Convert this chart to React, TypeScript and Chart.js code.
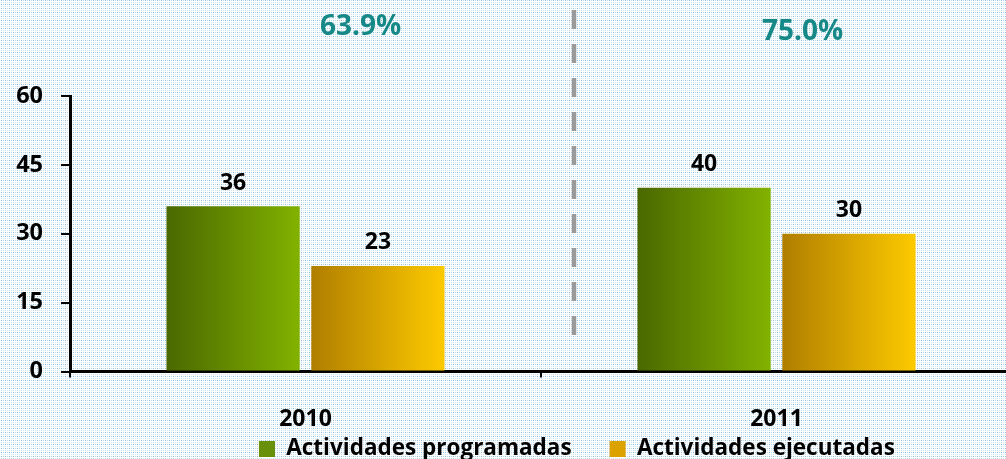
import React, { useEffect, useRef } from "react";
import { Chart, registerables } from "chart.js";

Chart.register(...registerables);

const categories = ["2010", "2011"];
const seriesNames = ["Actividades programadas", "Actividades ejecutadas"];
const programadas = [36, 40];
const ejecutadas = [23, 30];
const percentLabels = ["63.9%", "75.0%"];
const yMin = 0;
const yMax = 60;
const yStep = 15;

const FONT = "'Open Sans', 'Noto Sans', sans-serif";

const gradientStops = [
  ["#4a6800", "#82b200"],
  ["#b07e00", "#fdca00"],
];

function makePattern(ctx: CanvasRenderingContext2D) {
  const c = document.createElement("canvas");
  c.width = 4;
  c.height = 4;
  const p = c.getContext("2d")!;
  p.fillStyle = "#ffffff";
  p.fillRect(0, 0, 4, 4);
  p.fillStyle = "rgb(135,188,222)";
  p.fillRect(1, 0, 1, 1);
  p.fillStyle = "rgb(186,218,238)";
  p.fillRect(3, 0, 1, 1);
  p.fillStyle = "rgb(192,222,240)";
  p.fillRect(1, 2, 1, 1);
  p.fillStyle = "rgb(214,233,246)";
  p.fillRect(3, 2, 1, 1);
  return ctx.createPattern(c, "repeat");
}

const backgroundPlugin = {
  id: "bgPattern",
  beforeDraw(chart: any) {
    const ctx = chart.ctx;
    ctx.save();
    const pat = makePattern(ctx);
    ctx.fillStyle = pat || "#fff";
    ctx.fillRect(0, 0, chart.width, chart.height);
    // dashed separator between the two years
    ctx.strokeStyle = "#9a9a9a";
    ctx.lineWidth = 4.5;
    ctx.setLineDash([19, 15]);
    ctx.beginPath();
    ctx.moveTo(574, 10);
    ctx.lineTo(574, 340);
    ctx.stroke();
    ctx.restore();
  },
};

const LEGEND_START_X = 259;
const LEGEND_TEXT_MID_Y = 449;

const gradientPlugin = {
  id: "barGradient",
  afterLayout(chart: any) {
    const lg = chart.legend;
    if (!lg || !lg.lineWidths) return;
    const pad = lg.options.labels.padding;
    const fontSize = lg.options.labels.font.size;
    const start = (lg.left + pad + lg.right - lg.lineWidths[0]) / 2;
    const dx = LEGEND_START_X - start;
    lg.left += dx;
    lg.right += dx;
    const curMid = lg.top + pad + fontSize / 2;
    const dy = LEGEND_TEXT_MID_Y - curMid;
    lg.top += dy;
    lg.bottom += dy;
  },
  beforeDatasetsDraw(chart: any) {
    const ctx = chart.ctx;
    chart.data.datasets.forEach((_: any, di: number) => {
      const meta = chart.getDatasetMeta(di);
      meta.data.forEach((el: any) => {
        const left = el.x - el.width / 2;
        const right = el.x + el.width / 2;
        const g = ctx.createLinearGradient(left, 0, right, 0);
        g.addColorStop(0, gradientStops[di][0]);
        g.addColorStop(1, gradientStops[di][1]);
        el.options = Object.assign({}, el.options, { backgroundColor: g });
      });
    });
  },
  afterDatasetsDraw(chart: any) {
    const ctx = chart.ctx;
    ctx.save();
    ctx.font = `bold 23px ${FONT}`;
    ctx.fillStyle = "#000";
    ctx.textAlign = "center";
    ctx.textBaseline = "middle";
    chart.data.datasets.forEach((ds: any, di: number) => {
      const meta = chart.getDatasetMeta(di);
      meta.data.forEach((el: any, i: number) => {
        ctx.fillText(String(ds.data[i]), el.x, el.y - 23);
      });
    });
    ctx.restore();
  },
  afterDraw(chart: any) {
    const ctx = chart.ctx;
    const xs = chart.scales.x;
    const offsets = [
      [55, 27],
      [26, 32],
    ];
    ctx.save();
    ctx.font = `bold 28px ${FONT}`;
    ctx.fillStyle = "#158887";
    ctx.textAlign = "center";
    ctx.textBaseline = "middle";
    percentLabels.forEach((t, i) => {
      ctx.fillText(t, xs.getPixelForValue(i) + offsets[i][0], offsets[i][1]);
    });
    ctx.restore();
  },
};

export default function App() {
  const ref = useRef<HTMLCanvasElement>(null);
  useEffect(() => {
    if (!ref.current) return;
    const chart = new Chart(ref.current, {
      type: "bar",
      data: {
        labels: categories,
        datasets: [
          {
            label: seriesNames[0],
            data: programadas,
            backgroundColor: "#68900a",
            borderWidth: 0,
            categoryPercentage: 0.615,
            barPercentage: 0.92,
          },
          {
            label: seriesNames[1],
            data: ejecutadas,
            backgroundColor: "#dca300",
            borderWidth: 0,
            categoryPercentage: 0.615,
            barPercentage: 0.92,
          },
        ],
      },
      options: {
        animation: false,
        responsive: false,
        maintainAspectRatio: false,
        layout: { padding: { top: 96, left: 0, right: 0, bottom: 0 } },
        plugins: {
          legend: {
            position: "bottom",
            labels: {
              boxWidth: 16,
              boxHeight: 16,
              padding: 38,
              color: "#000",
              font: { family: FONT, size: 22.5, weight: "bold" },
            },
          },
          tooltip: { enabled: false },
        },
        scales: {
          x: {
            grid: {
              display: true,
              drawOnChartArea: false,
              drawTicks: true,
              tickLength: 6,
              lineWidth: 2,
              color: "#000",
              offset: true,
            },
            border: { display: true, color: "#000", width: 3 },
            ticks: {
              color: "#000",
              padding: 28,
              font: { family: FONT, size: 23, weight: "bold" },
            },
            afterFit(scale: any) {
              scale.height = 64;
              scale.paddingLeft = 0;
              scale.paddingRight = 0;
            },
          },
          y: {
            min: yMin,
            max: yMax,
            grid: {
              display: true,
              drawOnChartArea: false,
              drawTicks: true,
              tickLength: 9,
              lineWidth: 2,
              color: "#000",
            },
            border: { display: true, color: "#000", width: 3 },
            ticks: {
              stepSize: yStep,
              color: "#000",
              padding: 18,
              font: { family: FONT, size: 23.5, weight: "bold" },
            },
            afterFit(scale: any) {
              scale.width = 70;
              scale.paddingTop = 0;
              scale.paddingBottom = 0;
            },
          },
        },
      },
      plugins: [backgroundPlugin, gradientPlugin],
    });
    return () => chart.destroy();
  }, []);

  return (
    <div
      style={{
        position: "absolute",
        left: 0,
        top: 0,
        width: 1006,
        height: 459,
        overflow: "hidden",
        background: "#fff",
      }}
    >
      <canvas ref={ref} width={1012} height={506} style={{ display: "block" }} />
    </div>
  );
}
